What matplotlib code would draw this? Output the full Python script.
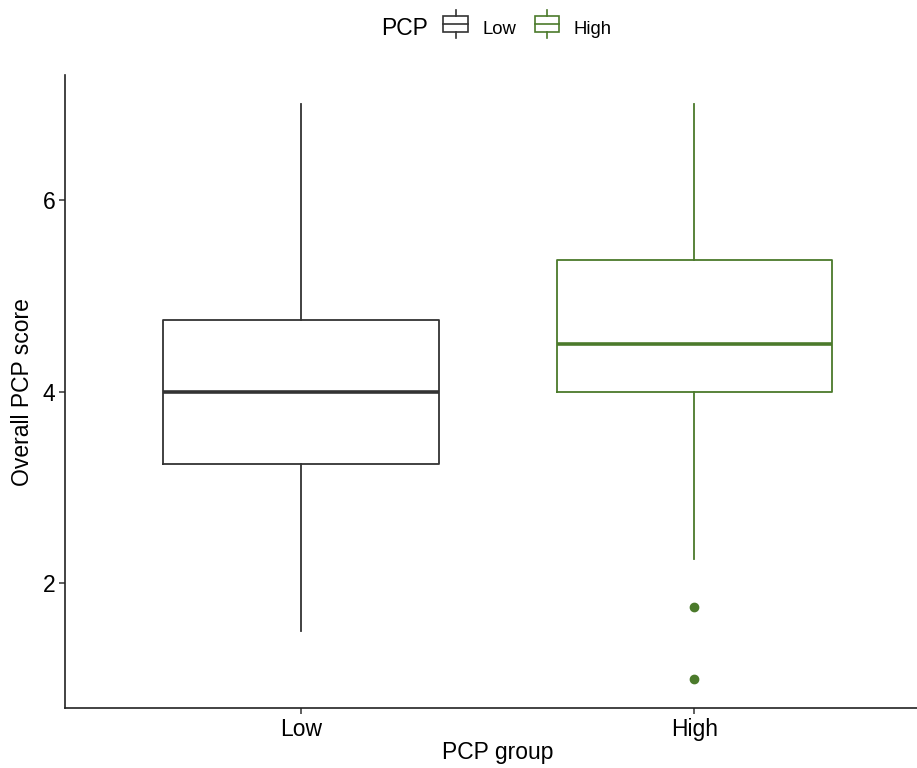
import numpy as np
import matplotlib.pyplot as plt
from matplotlib.legend_handler import HandlerBase
from matplotlib.lines import Line2D
from matplotlib.patches import Rectangle

plt.rcParams['font.family'] = ['Liberation Sans', 'DejaVu Sans']

# ====== Data ======
groups = ['Low', 'High']
q1 = [3.25, 4.0]
med = [4.0, 4.5]
q3 = [4.75, 5.375]
whislo = [1.5, 2.25]
whishi = [7.0, 7.0]
fliers = [[], [1.75, 1.0]]
colors = ['#333333', '#4b7a2b']


class BoxHandler(HandlerBase):
    # small boxplot glyph for the legend
    def create_artists(self, legend, orig_handle, xd, yd, w, h, fontsize, trans):
        c = orig_handle.get_color()
        bw, bh = w * 0.9, h * 1.0
        x0 = xd + (w - bw) / 2
        y0 = yd + (h - bh) / 2
        box = Rectangle((x0, y0), bw, bh, fill=False, ec=c, lw=1.2, transform=trans)
        mid = Line2D([x0, x0 + bw], [y0 + bh / 2] * 2, color=c, lw=1.2, transform=trans)
        wu = Line2D([xd + w / 2] * 2, [y0 + bh, y0 + bh + h * 0.4], color=c, lw=1.2, transform=trans)
        wd = Line2D([xd + w / 2] * 2, [y0, y0 - h * 0.4], color=c, lw=1.2, transform=trans)
        return [box, mid, wu, wd]


fig = plt.figure(figsize=(9.17, 7.68), dpi=100)
ax = fig.add_axes([0.071, 0.078, 0.9433, 0.824])

positions = np.arange(1, len(groups) + 1)
for i, g in enumerate(groups):
    stats = [dict(med=med[i], q1=q1[i], q3=q3[i], whislo=whislo[i],
                  whishi=whishi[i], fliers=fliers[i], label=g)]
    c = colors[i]
    ax.bxp(stats, positions=[positions[i]], widths=0.7, showcaps=False,
           boxprops=dict(color=c, lw=1.3),
           whiskerprops=dict(color=c, lw=1.3),
           medianprops=dict(color=c, lw=2.6),
           flierprops=dict(marker='o', markerfacecolor=c, markeredgecolor=c,
                           markersize=6, linestyle='none'))

ax.set_xlim(0.4, 2.6)
ax.set_ylim(0.7, 7.3)
ax.set_xticks(positions)
ax.set_xticklabels(groups)
ax.set_yticks([2, 4, 6])

for s in ['top', 'right']:
    ax.spines[s].set_visible(False)
for s in ['left', 'bottom']:
    ax.spines[s].set_linewidth(1.2)
    ax.spines[s].set_color('#222222')
ax.tick_params(axis='both', labelsize=16.5, length=4, width=1.1, color='#333333',
               labelcolor='black', pad=3)

ax.set_xlabel('PCP group', fontsize=16.5, labelpad=0)
ax.set_ylabel('Overall PCP score', fontsize=16.5, labelpad=6)

# legend on top: title as a separate text, keys in one row
fig.text(0.4667, 0.963, 'PCP', fontsize=16.5, ha='right', va='center')
handles = [Line2D([], [], color=c) for c in colors]
fig.legend(handles, groups, handler_map={Line2D: BoxHandler()},
           loc='center left', bbox_to_anchor=(0.482, 0.963), ncol=2,
           frameon=False, fontsize=13.3, borderpad=0, borderaxespad=0,
           handlelength=1.5, handleheight=0.95, columnspacing=0.9,
           handletextpad=0.7)

fig.savefig('out.png', dpi=100)
